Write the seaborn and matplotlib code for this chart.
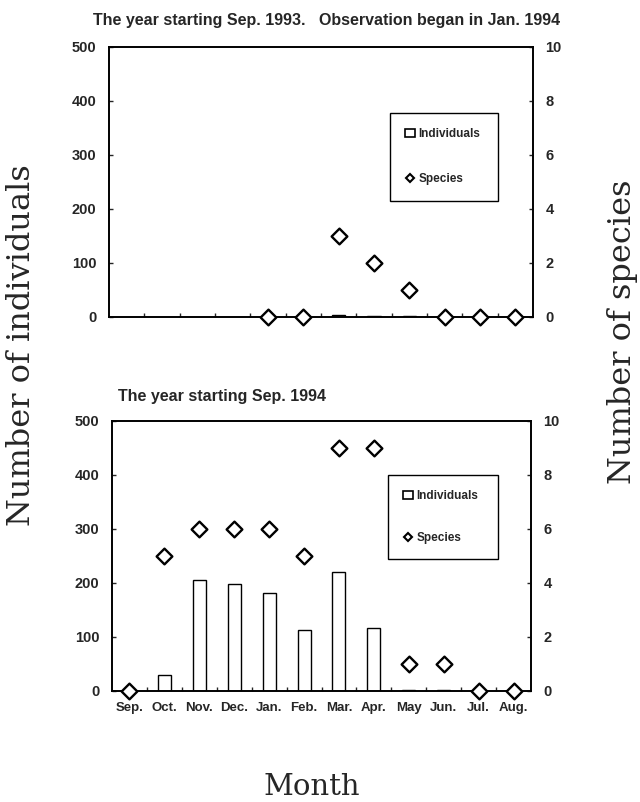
import numpy as np
import pandas as pd
import matplotlib
matplotlib.use("Agg")
import matplotlib.pyplot as plt
import seaborn as sns
from matplotlib.patches import Patch
from matplotlib.lines import Line2D

months = ["Sep.", "Oct.", "Nov.", "Dec.", "Jan.", "Feb.", "Mar.", "Apr.", "May", "Jun.", "Jul.", "Aug."]

# year starting Sep. 1993 (observation began Jan. 1994)
ind_1993 = [np.nan, np.nan, np.nan, np.nan, 0, 0, 3, 2, 1, 0, 0, 0]
spp_1993 = [np.nan, np.nan, np.nan, np.nan, 0, 0, 3, 2, 1, 0, 0, 0]

# year starting Sep. 1994
ind_1994 = [0, 30, 205, 198, 182, 113, 220, 117, 2, 2, 0, 0]
spp_1994 = [0, 5, 6, 6, 6, 5, 9, 9, 1, 1, 0, 0]

sns.set_style("ticks")
plt.rcParams["font.family"] = ["Liberation Sans", "DejaVu Sans"]

fig = plt.figure(figsize=(6.4, 8.02), dpi=100)
ax_top = fig.add_axes([109 / 640, 1 - 317 / 802, 424 / 640, 270 / 802])
ax_bot = fig.add_axes([112 / 640, 1 - 691 / 802, 419 / 640, 270 / 802])


def draw_panel(ax, ind, spp, show_months, leg_box, leg_space):
    df = pd.DataFrame({"Month": months, "Individuals": ind, "Species": spp})
    sns.barplot(data=df, x="Month", y="Individuals", order=months, ax=ax,
                color="white", edgecolor="black", linewidth=1.0, width=0.37,
                saturation=1, errorbar=None)
    ax2 = ax.twinx()
    sns.stripplot(data=df, x="Month", y="Species", order=months, ax=ax2,
                  jitter=False, marker="D", size=8, color="white",
                  edgecolor="black", linewidth=1.7, clip_on=False, zorder=5)

    ax.set_xlim(-0.5, 11.5)
    ax.set_ylim(0, 500)
    ax2.set_ylim(0, 10)
    ax.set_yticks(range(0, 501, 100))
    ax2.set_yticks(range(0, 11, 2))
    ax.set_xlabel("")
    ax.set_ylabel("")
    ax2.set_ylabel("")

    for a in (ax, ax2):
        for s in a.spines.values():
            s.set_visible(True)
            s.set_color("black")
            s.set_linewidth(1.2)
        a.tick_params(axis="y", direction="in", length=3, width=1, pad=9,
                      labelsize=10.5)
        for lab in a.get_yticklabels():
            lab.set_fontweight("bold")

    ax.set_xticks(range(12))
    ax.set_xticks(np.arange(0.5, 11.5, 1), minor=True)
    ax.tick_params(axis="x", which="major", length=0, pad=8, labelsize=9.5)
    ax.tick_params(axis="x", which="minor", direction="in", length=3, width=1)
    if show_months:
        ax.set_xticklabels(months, fontweight="bold")
    else:
        ax.set_xticklabels([])

    handles = [Patch(facecolor="white", edgecolor="black", linewidth=1.2),
               Line2D([], [], marker="D", ls="none", mfc="white", mec="black",
                      ms=4.5, mew=1.5)]
    leg = ax2.legend(handles, ["Individuals", "Species"], loc="upper left",
                     bbox_to_anchor=leg_box, mode="expand", frameon=True,
                     fancybox=False, framealpha=1, edgecolor="black",
                     borderpad=1.3, borderaxespad=0, labelspacing=leg_space,
                     handlelength=0.8, handletextpad=0.3,
                     prop={"weight": "bold", "size": 8.5})
    leg.get_frame().set_linewidth(1.0)


draw_panel(ax_top, ind_1993, spp_1993, False, (0.663, 0.0, 0.255, 0.756), 2.8)
draw_panel(ax_bot, ind_1994, spp_1994, True, (0.659, 0.0, 0.263, 0.80), 2.5)

fig.text(93 / 640, 1 - 21 / 802,
         "The year starting Sep. 1993.   Observation began in Jan. 1994",
         ha="left", va="center", fontsize=11.5, fontweight="bold")
fig.text(118 / 640, 1 - 396 / 802, "The year starting Sep. 1994",
         ha="left", va="center", fontsize=11.5, fontweight="bold")

fig.text(22 / 640, 1 - 345 / 802, "Number of individuals", rotation=90,
         ha="center", va="center", fontsize=23, family="DejaVu Serif")
fig.text(622 / 640, 1 - 332 / 802, "Number of species", rotation=90,
         ha="center", va="center", fontsize=23, family="DejaVu Serif")
fig.text(312 / 640, 1 - 795 / 802, "Month", ha="center", va="baseline",
         fontsize=21, family="DejaVu Serif")

fig.savefig("out.png", dpi=100)
